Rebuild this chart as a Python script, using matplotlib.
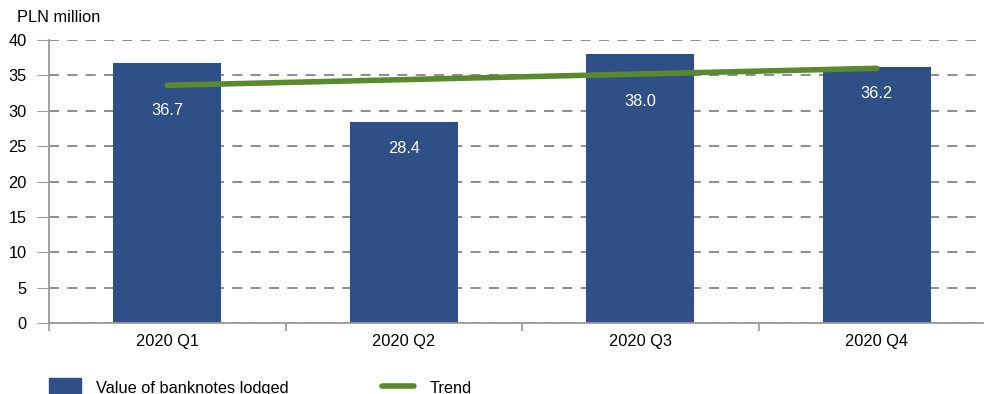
import matplotlib.pyplot as plt
from matplotlib.lines import Line2D
from matplotlib.patches import Patch

plt.rcParams['font.family'] = ['Liberation Sans', 'DejaVu Sans']

quarters = ['2020 Q1', '2020 Q2', '2020 Q3', '2020 Q4']
lodged = [36.7, 28.4, 38.0, 36.2]
trend = [33.6, 34.4, 35.2, 36.0]
label_drop = [34, 19, 34, 19]  # points below bar top for value labels

bar_color = '#2f5087'
trend_color = '#5a8a2e'
axis_grey = '#9a9a9a'
fs = 11.8

fig = plt.figure(figsize=(9.84, 3.94), dpi=100)
ax = fig.add_axes([49 / 984, 71 / 394, 935 / 984, 283 / 394])

x = list(range(len(quarters)))
ax.bar(x, lodged, width=108 / 236.5, color=bar_color, zorder=2)
ax.plot(x, trend, color=trend_color, lw=4, solid_capstyle='round', zorder=3)

for xi, v, d in zip(x, lodged, label_drop):
    ax.annotate(f'{v:.1f}', (xi, v), xytext=(0, -d), textcoords='offset points',
                ha='center', va='center', color='white', fontsize=fs, zorder=4)

ax.set_xlim(-0.5, 3.5 - 11 / 236.5)
ax.set_ylim(0, 40)
ax.set_yticks(range(0, 41, 5))
ax.yaxis.grid(True, color='#7a7a7a', ls=(0, (6, 5)), lw=1.2, zorder=0)
ax.tick_params(axis='y', length=9, color=axis_grey, labelsize=fs, pad=7)

ax.set_xticks(x)
ax.set_xticklabels(quarters)
ax.tick_params(axis='x', length=0, labelsize=fs, pad=8)
ax.set_xticks([-0.5, 0.5, 1.5, 2.5], minor=True)
ax.tick_params(axis='x', which='minor', length=6, color=axis_grey, width=1.2)

for side in ['top', 'right']:
    ax.spines[side].set_visible(False)
for side in ['left', 'bottom']:
    ax.spines[side].set_color(axis_grey)
    ax.spines[side].set_linewidth(1.3)

fig.text(17 / 984, 1 - 18 / 394, 'PLN million', fontsize=fs, va='center', ha='left')

handles = [Patch(color=bar_color, label='Value of banknotes lodged'),
           Line2D([], [], color=trend_color, lw=4, solid_capstyle='round', label='Trend')]
fig.legend(handles=handles, loc='lower left', bbox_to_anchor=(34 / 984, -17 / 394),
           ncol=2, frameon=False, fontsize=fs, handlelength=1.95, handleheight=1.3,
           columnspacing=5.7, handletextpad=0.95)

fig.savefig('out.png', dpi=100)
